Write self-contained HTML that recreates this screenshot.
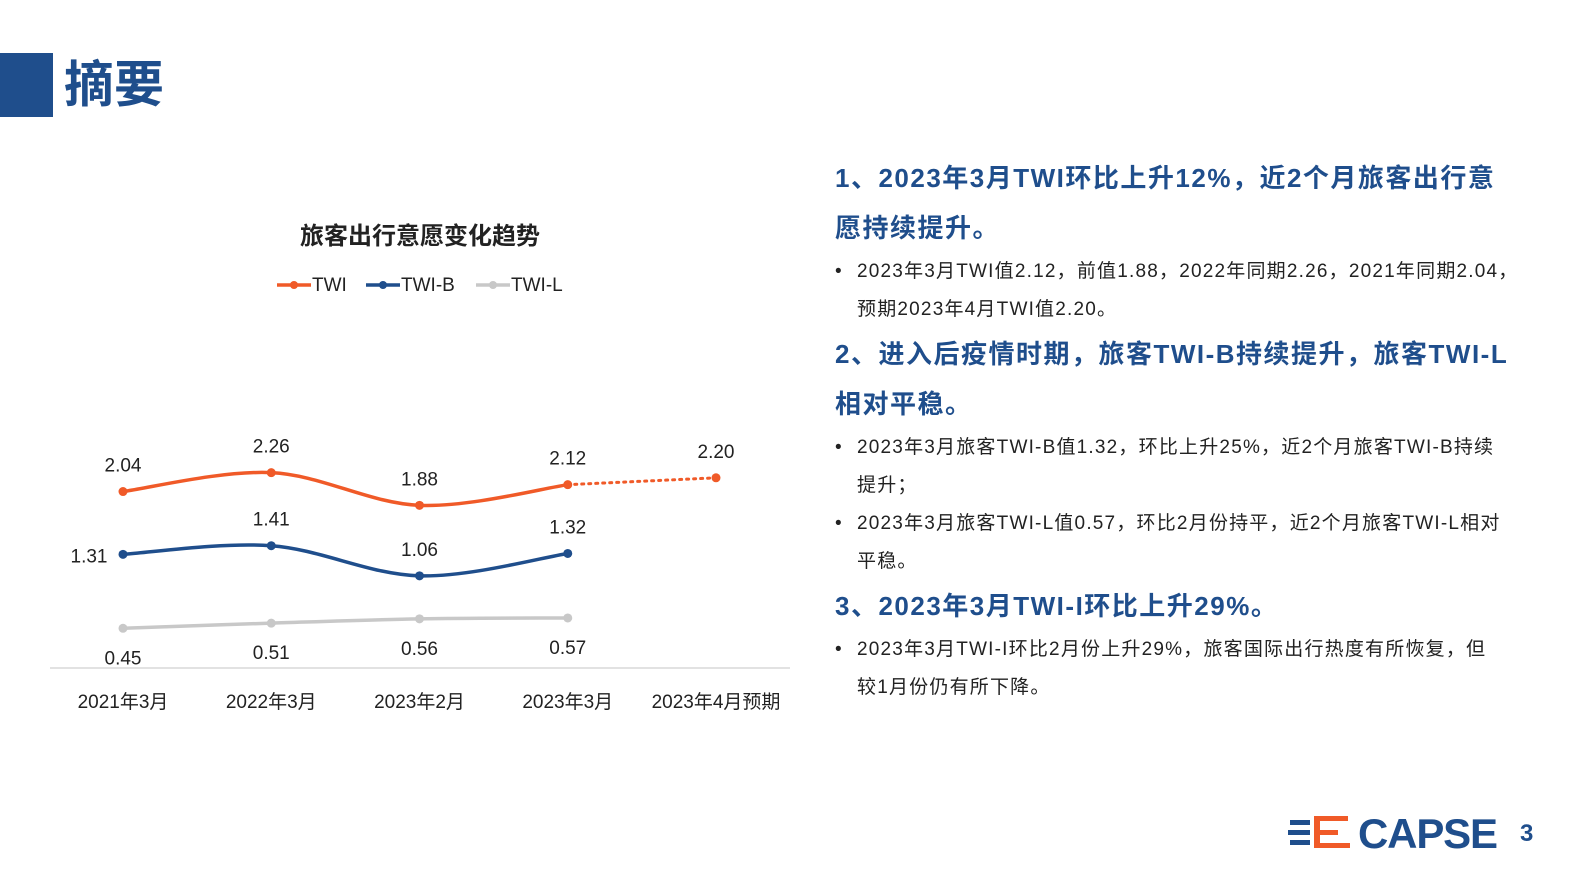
<!DOCTYPE html>
<html><head><meta charset="utf-8"><style>
body{margin:0;width:1587px;height:892px;background:#fff;position:relative;overflow:hidden;font-family:"Liberation Sans","Noto Sans CJK SC",sans-serif;}
.abs{position:absolute;}
.h{color:#1f4e8c;font-weight:bold;font-size:26px;line-height:50px;white-space:nowrap;letter-spacing:1.5px;}
.b{font-size:19px;color:#222;line-height:38px;padding-left:22px;position:relative;white-space:nowrap;letter-spacing:1.2px;}
.b:before{content:"•";position:absolute;left:0;}
</style></head><body>
<div class="abs" style="left:0;top:53px;width:53px;height:64px;background:#1f4e8c"></div>
<div class="abs" style="left:64px;top:52px;font-size:50px;font-weight:bold;color:#1f4e8c;line-height:66px">摘要</div>
<svg class="abs" style="left:0;top:0" width="800" height="892">
<text x="420" y="244" text-anchor="middle" font-size="24" font-weight="bold" fill="#222">旅客出行意愿变化趋势</text>
<g id="legend" font-size="19" fill="#222"></g>
<line x1="50" x2="790" y1="668" y2="668" stroke="#d9d9d9" stroke-width="1.5"/>
<g id="plot"></g>
</svg>
<div class="abs" style="left:835px;top:153px;width:680px">
<div class="h">1、2023年3月TWI环比上升12%，近2个月旅客出行意<br>愿持续提升。</div>
<div class="b">2023年3月TWI值2.12，前值1.88，2022年同期2.26，2021年同期2.04，<br>预期2023年4月TWI值2.20。</div>
<div class="h">2、进入后疫情时期，旅客TWI-B持续提升，旅客TWI-L<br>相对平稳。</div>
<div class="b">2023年3月旅客TWI-B值1.32，环比上升25%，近2个月旅客TWI-B持续<br>提升；</div>
<div class="b">2023年3月旅客TWI-L值0.57，环比2月份持平，近2个月旅客TWI-L相对<br>平稳。</div>
<div class="h">3、2023年3月TWI-I环比上升29%。</div>
<div class="b">2023年3月TWI-I环比2月份上升29%，旅客国际出行热度有所恢复，但<br>较1月份仍有所下降。</div>
</div>
<svg class="abs" style="left:1288px;top:812px" width="220" height="45">
<g fill="#1f4e8c"><rect x="2" y="8" width="20" height="5"/><rect x="0" y="18" width="22" height="5"/><rect x="2" y="28" width="20" height="5"/></g>
<g fill="#f05a28"><rect x="26" y="4" width="34" height="5"/><rect x="26" y="4" width="6" height="32"/><rect x="26" y="18" width="24" height="5"/><rect x="26" y="31" width="36" height="5"/></g>
<text x="70" y="36" font-size="42" font-weight="bold" fill="#1f4e8c" font-family="Liberation Sans,sans-serif" textLength="140">CAPSE</text>
</svg>
<div class="abs" style="left:1520px;top:820px;font-size:24px;font-weight:bold;color:#1f4e8c">3</div>
<script>
const categories=["2021年3月","2022年3月","2023年2月","2023年3月","2023年4月预期"];
const twi=[2.04,2.26,1.88,2.12,2.20];
const twiB=[1.31,1.41,1.06,1.32,null];
const twiL=[0.45,0.51,0.56,0.57,null];
const NS="http://www.w3.org/2000/svg";
const X=i=>123+i*148.25, Y=v=>667-v*86;
const plot=document.getElementById('plot');
function mk(t,a,p){const e=document.createElementNS(NS,t);for(const k in a)e.setAttribute(k,a[k]);(p||plot).appendChild(e);return e;}
function spline(pts){let d=`M${pts[0][0]},${pts[0][1]}`;for(let i=0;i<pts.length-1;i++){const p0=pts[i-1]||pts[i],p1=pts[i],p2=pts[i+1],p3=pts[i+2]||p2;const t=0.17*2;d+=` C${p1[0]+(p2[0]-p0[0])*t/2},${p1[1]+(p2[1]-p0[1])*t/2} ${p2[0]-(p3[0]-p1[0])*t/2},${p2[1]-(p3[1]-p1[1])*t/2} ${p2[0]},${p2[1]}`;}return d;}
function series(vals,color,name,lblAbove){
  const pts=[];vals.forEach((v,i)=>{if(v!==null&&i<4)pts.push([X(i),Y(v)]);});
  const p=mk('path',{d:spline(pts),fill:'none',stroke:color,'stroke-width':3.5});
  
  
  vals.forEach((v,i)=>{if(v===null)return;
    const c=mk('circle',{cx:X(i),cy:Y(v),r:4.5,fill:color});
    
    
    const lx=(name==='twi-b'&&i===0)?X(i)-34:X(i);
    const ly=(name==='twi-b'&&i===0)?Y(v)+8:(lblAbove?Y(v)-20:Y(v)+36);
    const t=mk('text',{x:lx,y:ly,'text-anchor':'middle','font-size':19,fill:'#222'});t.textContent=v.toFixed(2);
    
    
  });
}
series(twi,'#f05a28','twi',true);
const dl=mk('line',{x1:X(3),y1:Y(twi[3]),x2:X(4),y2:Y(twi[4]),stroke:'#f05a28','stroke-width':3,'stroke-dasharray':'2 5','stroke-linecap':'round'});


series(twiB,'#1f4e8c','twi-b',true);
series(twiL,'#c8c8c8','twi-l',false);
categories.forEach((c,i)=>{const t=mk('text',{x:X(i),y:708,'text-anchor':'middle','font-size':19,fill:'#222'});t.textContent=c;
  
  });
const lg=document.getElementById('legend');
[["TWI","#f05a28",277],["TWI-B","#1f4e8c",366],["TWI-L","#c8c8c8",476]].forEach(([n,c,x])=>{
  const l=mk('line',{x1:x,x2:x+34,y1:285,y2:285,stroke:c,'stroke-width':3.5},lg);
  
  
  mk('circle',{cx:x+17,cy:285,r:4,fill:c},lg);
  const t=mk('text',{x:x+35,y:291},lg);t.textContent=n;
  
  
});
</script>
</body></html>
